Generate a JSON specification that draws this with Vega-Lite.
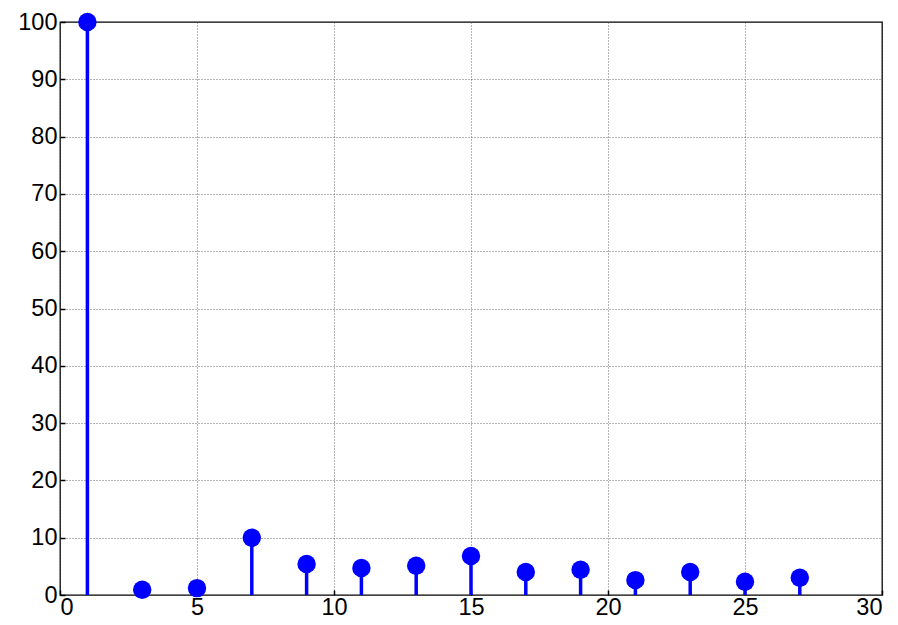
{
  "$schema": "https://vega.github.io/schema/vega-lite/v6.json",
  "autosize": "none",
  "padding": {"left": 60, "top": 22, "right": 16, "bottom": 30},
  "width": 822,
  "height": 573,
  "background": "white",
  "config": {
    "view": {"stroke": "black", "strokeWidth": 1.3},
    "axis": {
      "labelFont": "Liberation Sans",
      "labelFontSize": 23.5,
      "labelColor": "black",
      "domain": false,
      "gridColor": "#444444",
      "gridDash": [1, 2],
      "gridWidth": 0.8,
      "tickColor": "black",
      "tickSize": -5,
      "tickWidth": 1.5,
      "title": null
    }
  },
  "data": {
    "values": [
      {"n": 1, "v": 100},
      {"n": 3, "v": 0.9},
      {"n": 5, "v": 1.2},
      {"n": 7, "v": 10},
      {"n": 9, "v": 5.4},
      {"n": 11, "v": 4.7},
      {"n": 13, "v": 5.1},
      {"n": 15, "v": 6.8},
      {"n": 17, "v": 4.0},
      {"n": 19, "v": 4.4},
      {"n": 21, "v": 2.6},
      {"n": 23, "v": 4.0},
      {"n": 25, "v": 2.3},
      {"n": 27, "v": 3.0}
    ]
  },
  "encoding": {
    "x": {
      "field": "n", "type": "quantitative",
      "scale": {"domain": [0, 30], "nice": false, "zero": false},
      "axis": {"values": [0, 5, 10, 15, 20, 25, 30], "labelPadding": 5, "grid": true}
    },
    "y": {
      "field": "v", "type": "quantitative",
      "scale": {"domain": [0, 100], "nice": false},
      "axis": {"values": [0, 10, 20, 30, 40, 50, 60, 70, 80, 90, 100], "labelPadding": 8, "grid": true}
    }
  },
  "layer": [
    {
      "mark": {"type": "rule", "color": "#0000FF", "strokeWidth": 3.5},
      "encoding": {"y2": {"datum": 0}}
    },
    {
      "mark": {"type": "point", "filled": true, "color": "#0000FF", "opacity": 1, "size": 340, "shape": "circle"}
    }
  ]
}
